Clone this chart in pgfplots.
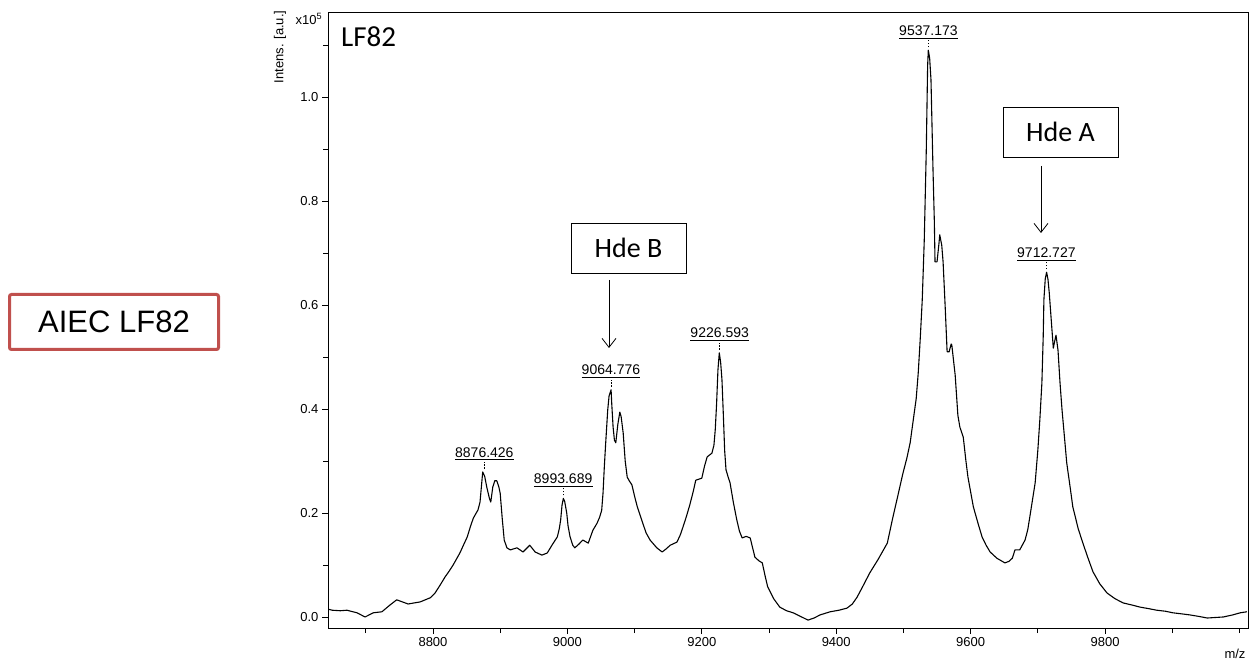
\documentclass[border=0pt]{standalone}
\usepackage{fontspec}
\setmainfont{Liberation Sans}
\newfontfamily\calib{Carlito}
\usepackage{pgfplots}
\usepackage{pgfplotstable}
\pgfplotsset{compat=1.18}
\usetikzlibrary{arrows.meta}
\definecolor{aiecred}{RGB}{192,80,77}

\pgfplotstableread{
x y
8644 0.015
8650 0.013
8662 0.012
8672 0.013
8687 0.008
8699 0.000
8711 0.008
8724 0.010
8736 0.023
8746 0.033
8763 0.025
8781 0.029
8796 0.037
8803 0.046
8810 0.060
8818 0.077
8824 0.088
8830 0.100
8840 0.123
8846 0.140
8851 0.154
8856 0.175
8860 0.190
8867 0.206
8870 0.221
8872 0.250
8874 0.279
8877 0.270
8880 0.250
8884 0.228
8886 0.221
8889 0.250
8892 0.262
8895 0.262
8898 0.250
8900 0.238
8903 0.190
8906 0.148
8910 0.133
8915 0.129
8925 0.133
8934 0.125
8944 0.138
8952 0.125
8962 0.119
8970 0.123
8977 0.138
8985 0.154
8988 0.170
8990 0.187
8992 0.215
8994 0.228
8996 0.222
8999 0.200
9001 0.175
9004 0.154
9008 0.138
9011 0.133
9017 0.140
9023 0.148
9031 0.142
9038 0.167
9044 0.180
9048 0.192
9051 0.205
9053 0.238
9055 0.290
9057 0.335
9060 0.398
9062 0.425
9065 0.437
9066 0.410
9068 0.365
9070 0.340
9072 0.335
9075 0.370
9078 0.394
9080 0.385
9083 0.354
9086 0.300
9089 0.269
9092 0.262
9096 0.254
9100 0.232
9104 0.212
9112 0.181
9117 0.162
9123 0.148
9133 0.133
9141 0.125
9147 0.131
9153 0.138
9163 0.144
9168 0.158
9172 0.173
9177 0.193
9182 0.215
9187 0.240
9191 0.263
9200 0.267
9204 0.290
9208 0.308
9215 0.315
9218 0.330
9220 0.360
9222 0.410
9224 0.475
9226 0.508
9228 0.490
9230 0.456
9232 0.390
9234 0.320
9236 0.283
9239 0.270
9242 0.258
9247 0.220
9252 0.187
9256 0.165
9260 0.152
9266 0.155
9272 0.152
9279 0.115
9285 0.108
9290 0.104
9294 0.080
9298 0.058
9307 0.035
9316 0.019
9326 0.012
9336 0.008
9347 0.001
9358 -0.006
9367 -0.002
9376 0.004
9391 0.010
9404 0.013
9416 0.017
9424 0.025
9431 0.038
9440 0.060
9450 0.085
9462 0.110
9476 0.142
9484 0.190
9492 0.235
9499 0.275
9505 0.305
9510 0.335
9514 0.373
9519 0.420
9522 0.469
9525 0.535
9528 0.610
9531 0.725
9534 0.898
9536 1.060
9537 1.090
9539 1.075
9541 1.033
9544 0.860
9546 0.760
9547 0.683
9550 0.683
9553 0.720
9554 0.735
9557 0.715
9559 0.683
9562 0.600
9565 0.510
9568 0.510
9571 0.525
9572 0.523
9577 0.465
9581 0.388
9584 0.365
9589 0.346
9593 0.300
9596 0.269
9604 0.212
9611 0.180
9617 0.154
9623 0.138
9629 0.125
9639 0.113
9651 0.104
9657 0.107
9662 0.113
9666 0.129
9673 0.129
9681 0.148
9685 0.168
9688 0.192
9692 0.225
9696 0.258
9700 0.321
9703 0.380
9706 0.450
9708 0.540
9709 0.610
9711 0.650
9713 0.663
9715 0.650
9717 0.623
9720 0.570
9723 0.517
9725 0.530
9727 0.542
9730 0.513
9733 0.450
9736 0.398
9740 0.340
9743 0.296
9748 0.250
9752 0.212
9760 0.170
9767 0.142
9775 0.112
9782 0.087
9792 0.064
9803 0.046
9815 0.035
9827 0.027
9840 0.023
9852 0.019
9865 0.016
9877 0.013
9890 0.011
9901 0.008
9914 0.006
9926 0.004
9940 0.001
9952 -0.002
9964 -0.001
9976 0.000
9990 0.004
10001 0.008
10011 0.010
}\spectrum

\newcommand{\pk}[3]{%
  \draw[line width=0.7pt, dash pattern=on 1.5pt off 1.5pt] ([yshift=3pt]axis cs:#1,#2) -- ([yshift=10pt]axis cs:#1,#2);
  \node[anchor=south, inner sep=0pt, font=\fontsize{14}{14}\selectfont, yshift=14.5pt] (pk) at (axis cs:#1,#2) {#3};
  \draw[line width=0.9pt] ([yshift=-2.5pt]pk.south west) -- ([yshift=-2.5pt]pk.south east);
}

\begin{document}
\begin{tikzpicture}
\useasboundingbox (0pt,0pt) rectangle (1253pt,662pt);
\begin{axis}[
  at={(328pt,34pt)}, anchor=south west,
  scale only axis, width=920pt, height=616pt,
  xmin=8643.8, xmax=10012.7, ymin=-0.0212, ymax=1.1635,
  xtick={8800,9000,9200,9400,9600,9800},
  minor xtick={8700,8900,9100,9300,9500,9700,9900,10000},
  ytick={0,0.2,0.4,0.6,0.8,1.0},
  minor ytick={0.1,0.3,0.5,0.7,0.9,1.1},
  tick align=outside, xtick pos=bottom, ytick pos=left,
  major tick length=6pt, minor tick length=5pt,
  tick style={black, line width=0.8pt},
  axis line style={line width=0.9pt},
  tick label style={font=\fontsize{13}{13}\selectfont, black},
  /pgf/number format/assume math mode=true,
  xticklabel style={/pgf/number format/1000 sep={}},
  yticklabel style={/pgf/number format/.cd, fixed, fixed zerofill, precision=1},
  scaled y ticks=false, scaled x ticks=false,
]
\addplot[black, line width=1.1pt, line join=round, mark=none] table[x=x,y=y] {\spectrum};
\pk{8876.426}{0.279}{8876.426}
\pk{8993.689}{0.228}{8993.689}
\pk{9064.776}{0.437}{9064.776}
\pk{9226.593}{0.508}{9226.593}
\pk{9537.173}{1.090}{9537.173}
\pk{9712.727}{0.663}{9712.727}
\end{axis}
\node[anchor=west, inner sep=0pt, font=\calib\fontsize{29}{29}\selectfont] at (341pt,625pt) {LF82};
\node[draw, line width=0.8pt, minimum width=115pt, minimum height=50pt, font=\calib\fontsize{28}{28}\selectfont] at (628.5pt,414pt) {Hde B};
\draw[line width=0.8pt, -{Straight Barb[length=9pt,width=14pt]}] (609pt,382pt) -- (609pt,314pt);
\node[draw, line width=0.8pt, minimum width=115pt, minimum height=50pt, font=\calib\fontsize{28}{28}\selectfont] at (1060.5pt,530pt) {Hde A};
\draw[line width=0.8pt, -{Straight Barb[length=9pt,width=14pt]}] (1041pt,496pt) -- (1041pt,429pt);
\node[draw=aiecred, line width=3pt, rounded corners=2pt, minimum width=209pt, minimum height=55pt, font=\fontsize{31}{31}\selectfont] at (114pt,340pt) {AIEC LF82};
\node[rotate=90, font=\fontsize{13}{13}\selectfont] at (280pt,615pt) {Intens. [a.u.]};
\node[font=\fontsize{13}{13}\selectfont] at (309pt,643pt) {x10\textsuperscript{5}};
\node[font=\fontsize{13}{13}\selectfont] at (1235pt,8pt) {m/z};
\end{tikzpicture}
\end{document}
